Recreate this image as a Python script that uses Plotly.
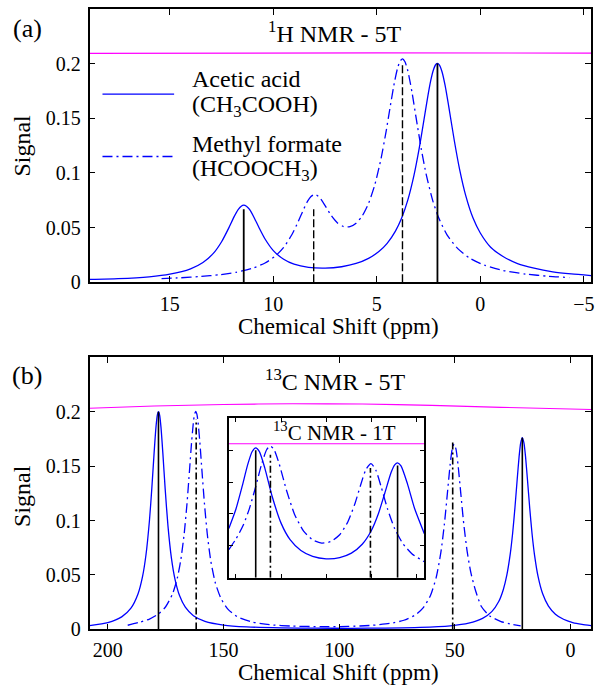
import plotly.graph_objects as go

# ---------------- data ----------------
# Panel (a): 1H NMR at 5 T
h_acetic_x = [18.88, 17.5, 16, 15, 14, 13.4, 12.9, 12.5, 12.15, 11.9, 11.7, 11.55, 11.43, 11.3, 11.15,
              10.95, 10.7, 10.4, 10.0, 9.5, 9.0, 8.3, 7.5, 6.7, 6.0, 5.4, 4.9, 4.5, 4.1, 3.8, 3.5, 3.2,
              2.95, 2.75, 2.55, 2.4, 2.27, 2.15, 2.07, 1.98, 1.85, 1.7, 1.5, 1.25, 1.0, 0.7, 0.35, 0,
              -0.5, -1.1, -1.8, -2.6, -3.5, -4.4, -5.35]
h_acetic_y = [0.0025, 0.0032, 0.0049, 0.0073, 0.0122, 0.0180, 0.0263, 0.0370, 0.0497, 0.0597, 0.0664,
              0.0695, 0.0704, 0.0695, 0.0665, 0.0599, 0.0502, 0.0395, 0.0289, 0.0209, 0.0164, 0.0135,
              0.0128, 0.0141, 0.0171, 0.0218, 0.0280, 0.0355, 0.0467, 0.0587, 0.0753, 0.0981, 0.1226,
              0.1452, 0.1684, 0.1838, 0.1938, 0.1991, 0.2002, 0.1988, 0.1925, 0.1799, 0.1579, 0.1289,
              0.1032, 0.0789, 0.0586, 0.045, 0.032, 0.0235, 0.017, 0.0128, 0.0095, 0.0075, 0.006]
h_formate_x = [15.4, 14.5, 13.5, 12.6, 11.8, 11.0, 10.4, 9.9, 9.5, 9.1, 8.8, 8.55, 8.35, 8.18, 8.05, 7.92,
               7.75, 7.5, 7.2, 6.9, 6.6, 6.3, 6.0, 5.7, 5.4, 5.1, 4.8, 4.55, 4.35, 4.15, 4.0, 3.88, 3.76,
               3.64, 3.5, 3.3, 3.1, 2.85, 2.6, 2.3, 2.0, 1.6, 1.1, 0.5, -0.2, -1.1, -2.2, -3.3, -4.3]
h_formate_y = [0.0033, 0.0040, 0.0052, 0.0068, 0.0090, 0.0128, 0.0175, 0.0239, 0.0318, 0.0436, 0.0553,
               0.0661, 0.0739, 0.0784, 0.0800, 0.0798, 0.0771, 0.0701, 0.0609, 0.0542, 0.0508, 0.0508,
               0.0540, 0.0608, 0.0720, 0.0888, 0.1126, 0.1380, 0.1608, 0.1827, 0.1956, 0.2021, 0.2042,
               0.2016, 0.1932, 0.1737, 0.1502, 0.1216, 0.0974, 0.0748, 0.0584, 0.0431, 0.0309, 0.0219,
               0.0155, 0.0107, 0.0074, 0.0054, 0.0042]
h_acetic_peaks = [11.43, 2.07]
h_acetic_sticks = [0.0667, 0.2]
h_formate_peaks = [8.05, 3.76]
h_formate_sticks = [0.0667, 0.2]
h_ref_x = [18.88, 12, 5, -5.35]
h_ref_y = [0.2093, 0.2097, 0.2097, 0.2095]

# Panel (b): 13C NMR at 5 T
c_acetic_x = [207.9, 200, 194, 190, 187, 185, 183.5, 182, 181, 180, 179.2, 178.6, 178.1, 177.6, 177, 176.2,
              175.2, 174, 172.5, 171, 169, 166.5, 163, 158, 150, 140, 125, 110, 95, 80, 65, 52, 44, 38, 34,
              31, 29, 27.5, 26, 25, 24, 23, 22.2, 21.5, 20.8, 20.1, 19.4, 18.6, 17.6, 16.6, 15.5, 14, 12,
              9.5, 6.5, 3, -1, -5, -8.9]
c_acetic_y = [0.0035, 0.0062, 0.0115, 0.0195, 0.0323, 0.0485, 0.0686, 0.1001, 0.1289, 0.1617, 0.1854,
              0.1969, 0.2001, 0.1969, 0.1854, 0.1617, 0.1289, 0.0951, 0.0654, 0.0465, 0.0311, 0.0204,
              0.0126, 0.0074, 0.0040, 0.0023, 0.0014, 0.0011, 0.0010, 0.0012, 0.0018, 0.0033, 0.0057,
              0.0101, 0.0163, 0.0256, 0.0367, 0.0498, 0.0696, 0.0881, 0.1115, 0.1382, 0.1585, 0.1714,
              0.1761, 0.1714, 0.1585, 0.1382, 0.1115, 0.0881, 0.0680, 0.0487, 0.0327, 0.0214, 0.0140,
              0.0093, 0.0063, 0.0046, 0.0035]
c_formate_x = [191.4, 186, 182, 178, 175, 172, 170, 168.5, 167, 165.8, 164.7, 163.8, 163, 162.5, 162, 161.5,
               161, 160.2, 159.3, 158.2, 157, 155.5, 153.5, 151, 148, 144, 138, 130, 120, 108, 96, 86, 78,
               72, 67, 63.5, 60.5, 58, 56, 54.5, 53.2, 52, 51.1, 50.3, 49.5, 48.6, 47.4, 46.1, 44.6, 43,
               41, 38.5, 35, 30, 25, 21.5]
c_formate_y = [0.0038, 0.0067, 0.0095, 0.0143, 0.0208, 0.0327, 0.0467, 0.0631, 0.0875, 0.1148, 0.1455,
               0.1716, 0.1904, 0.1977, 0.2003, 0.1978, 0.1905, 0.1716, 0.1456, 0.1149, 0.0876, 0.0631,
               0.0426, 0.0280, 0.0184, 0.0117, 0.0070, 0.0043, 0.0030, 0.0025, 0.0027, 0.0037, 0.0055,
               0.0084, 0.0134, 0.0203, 0.0312, 0.0480, 0.0709, 0.0966, 0.1249, 0.1514, 0.1658, 0.1703,
               0.1658, 0.1514, 0.1249, 0.0966, 0.0709, 0.0516, 0.0355, 0.0210, 0.0125, 0.0072, 0.0045,
               0.0032]
c_acetic_peaks = [178.1, 20.8]
c_acetic_sticks = [0.2, 0.176]
c_formate_peaks = [161.8, 50.9]
c_formate_sticks = [0.193, 0.172]
c_ref_x = [207.9, 180, 150, 120, 90, 60, 30, -8.9]
c_ref_y = [0.2032, 0.2052, 0.2066, 0.2073, 0.2070, 0.2058, 0.2040, 0.2020]

# Inset: 13C NMR at 1 T
i_acetic_x = [207.9, 200, 193, 187, 182, 178.1, 174, 168, 160, 150, 140, 128, 115, 100, 85, 72, 60, 50,
              42, 35, 28, 24, 20.8, 17, 10, 2, -8.9]
i_acetic_y = [0.0773, 0.1078, 0.1440, 0.1773, 0.1979, 0.2037, 0.1977, 0.1719, 0.1282, 0.0856, 0.0597,
              0.0426, 0.0334, 0.0297, 0.0315, 0.0385, 0.0524, 0.0736, 0.1007, 0.1325, 0.1649, 0.1770,
              0.1802, 0.1753, 0.1479, 0.1089, 0.0690]
i_formate_x = [207.9, 200, 192, 185, 178, 172, 166, 162, 158, 152, 144, 135, 125, 115, 105, 95, 85, 76,
               68, 62, 56, 50.3, 45, 39, 32, 24, 15, 5, -8.9]
i_formate_y = [0.0440, 0.0607, 0.0822, 0.1088, 0.1435, 0.1759, 0.2007, 0.2065, 0.2016, 0.1782, 0.1371,
               0.0993, 0.0731, 0.0594, 0.0544, 0.0566, 0.0674, 0.0875, 0.1165, 0.1442, 0.1693, 0.1788,
               0.1690, 0.1426, 0.1082, 0.0770, 0.0537, 0.0377, 0.0250]
i_ref_x = [207.9, -8.9]
i_ref_y = [0.21, 0.21]

# axes / ticks
h_range = [18.88, -5.35]
c_range = [207.9, -8.9]
y_range = [0, 0.25]
h_ticks = [15, 10, 5, 0, -5]
c_ticks = [200, 150, 100, 50, 0]
y_ticks = [0, 0.05, 0.1, 0.15, 0.2]
y_ticktext = ["0", "0.05", "0.1", "0.15", "0.2"]

# text
legend_names = [["Acetic acid", "(CH<sub>3</sub>COOH)"], ["Methyl formate", "(HCOOCH<sub>3</sub>)"]]
titles = ["<sup>1</sup>H NMR - 5T", "<sup>13</sup>C NMR - 5T", "<sup>13</sup>C NMR - 1T"]
x_title = "Chemical Shift (ppm)"
y_title = "Signal"
panel_tags = ["(a)", "(b)"]

# ---------------- styling ----------------
W, H = 597, 696
BLUE = "#0000ff"
MAGENTA = "#ff00ff"
DASHDOT = "10px,4px,2px,4px"
FONT = "Liberation Serif, DejaVu Serif, serif"

def px_x(p):
    return p / W

def px_y(p):
    return 1 - p / H

for xs, ys in [(h_acetic_x, h_acetic_y), (h_formate_x, h_formate_y), (c_acetic_x, c_acetic_y),
               (c_formate_x, c_formate_y), (i_acetic_x, i_acetic_y), (i_formate_x, i_formate_y)]:
    assert len(xs) == len(ys)

fig = go.Figure()

def add_line(x, y, xa, ya, color=BLUE, width=1.3, dash=None, spline=True):
    line = dict(color=color, width=width)
    if dash:
        line["dash"] = dash
    if spline:
        line["shape"] = "spline"
        line["smoothing"] = 0.6
    fig.add_trace(go.Scatter(x=x, y=y, xaxis=xa, yaxis=ya, mode="lines", line=line,
                             hoverinfo="skip", showlegend=False))

def add_sticks(pos, hts, xa, ya, dash=None, width=1.6):
    xs, ys = [], []
    for p, h in zip(pos, hts):
        xs += [p, p, None]
        ys += [0, h, None]
    line = dict(color="black", width=width)
    if dash:
        line["dash"] = dash
    fig.add_trace(go.Scatter(x=xs, y=ys, xaxis=xa, yaxis=ya, mode="lines", line=line,
                             hoverinfo="skip", showlegend=False))

# panel (a)
add_line(h_ref_x, h_ref_y, "x", "y", color=MAGENTA, width=1.1, spline=False)
add_line(h_acetic_x, h_acetic_y, "x", "y")
add_line(h_formate_x, h_formate_y, "x", "y", dash=DASHDOT)
add_sticks(h_acetic_peaks, h_acetic_sticks, "x", "y", width=1.8)
add_sticks(h_formate_peaks, h_formate_sticks, "x", "y", dash="8px,3px", width=1.4)

# panel (b)
add_line(c_ref_x, c_ref_y, "x2", "y2", color=MAGENTA, width=1.1)
add_line(c_acetic_x, c_acetic_y, "x2", "y2")
add_line(c_formate_x, c_formate_y, "x2", "y2", dash=DASHDOT)
add_sticks(c_acetic_peaks, c_acetic_sticks, "x2", "y2", width=1.6)
add_sticks(c_formate_peaks, c_formate_sticks, "x2", "y2", dash="7px,3px,2px,3px", width=1.6)

# inset
add_line(i_ref_x, i_ref_y, "x3", "y3", color=MAGENTA, width=1.1, spline=False)
add_line(i_acetic_x, i_acetic_y, "x3", "y3")
add_line(i_formate_x, i_formate_y, "x3", "y3", dash=DASHDOT)
add_sticks(c_acetic_peaks, c_acetic_sticks, "x3", "y3", width=1.6)
add_sticks(c_formate_peaks, c_formate_sticks, "x3", "y3", dash="7px,3px,2px,3px", width=1.6)

main_x_dom = [px_x(90), px_x(594)]
a_y_dom = [px_y(286.7), px_y(9)]
b_y_dom = [px_y(639.5), px_y(363)]
i_x_dom = [px_x(230), px_x(426.5)]
i_y_dom = [px_y(587), px_y(425)]

def axis(domain, rng, tickvals, anchor, ticktext=None, labels=True, lw=1.5, tl=6, standoff=4):
    d = dict(domain=domain, range=rng, tickvals=tickvals, anchor=anchor, ticks="inside",
             ticklen=tl, tickwidth=1.1, tickcolor="black", showline=True, linecolor="black",
             linewidth=lw, mirror="ticks", showgrid=False, zeroline=False,
             showticklabels=labels, tickfont=dict(family=FONT, size=20, color="black"),
             ticklabelstandoff=standoff, ticklabeloverflow="allow")
    if ticktext is not None:
        d["ticktext"] = ticktext
    return d

fig.update_layout(
    width=W, height=H, margin=dict(l=0, r=0, t=0, b=0),
    paper_bgcolor="white", plot_bgcolor="white",
    font=dict(family=FONT, color="black"),
    showlegend=False,
    xaxis=axis(main_x_dom, h_range, h_ticks, "y", standoff=3),
    yaxis=axis(a_y_dom, y_range, y_ticks, "x", ticktext=y_ticktext, standoff=3),
    xaxis2=axis(main_x_dom, c_range, c_ticks, "y2", standoff=2),
    yaxis2=axis(b_y_dom, y_range, y_ticks, "x2", ticktext=y_ticktext, standoff=3),
    xaxis3=axis(i_x_dom, c_range, c_ticks, "y3", labels=False, lw=2.2, tl=4),
    yaxis3=axis(i_y_dom, y_range, y_ticks, "x3", labels=False, lw=2.2, tl=4),
)

ann = []
def text(t, x, y, size, xanchor="center", angle=0):
    ann.append(dict(text=t, x=x, y=y, xref="paper", yref="paper", showarrow=False,
                    xanchor=xanchor, yanchor="middle", textangle=angle,
                    font=dict(family=FONT, size=size, color="black")))

text(panel_tags[0], px_x(27.5), px_y(29), 26)
text(panel_tags[1], px_x(27.5), px_y(381.5), 26)
text(titles[0], px_x(336), px_y(33), 24)
text(titles[1], px_x(337), px_y(386), 24)
text(titles[2], px_x(336), px_y(438), 21)
text(x_title, px_x(340), px_y(332), 23)
text(x_title, px_x(340), px_y(683), 23)
text(y_title, px_x(22), px_y(148), 24, angle=-90)
text(y_title, px_x(22), px_y(504), 24, angle=-90)
text(legend_names[0][0], px_x(191), px_y(80), 24, xanchor="left")
text(legend_names[0][1], px_x(191), px_y(107.5), 24, xanchor="left")
text(legend_names[1][0], px_x(191), px_y(146.5), 24, xanchor="left")
text(legend_names[1][1], px_x(191), px_y(173), 24, xanchor="left")
fig.update_layout(annotations=ann)

fig.add_shape(type="line", xref="paper", yref="paper", x0=px_x(103), x1=px_x(175),
              y0=px_y(95.7), y1=px_y(95.7), line=dict(color=BLUE, width=1.3))
fig.add_shape(type="line", xref="paper", yref="paper", x0=px_x(103), x1=px_x(175),
              y0=px_y(159), y1=px_y(159), line=dict(color=BLUE, width=1.3, dash=DASHDOT))

# page body has a default 8px margin; remove it so the 597x696 figure fills the window exactly
fig.write_html("out.html", config={"displayModeBar": False},
               post_script="document.body.style.margin='0';document.body.style.overflow='hidden';")
